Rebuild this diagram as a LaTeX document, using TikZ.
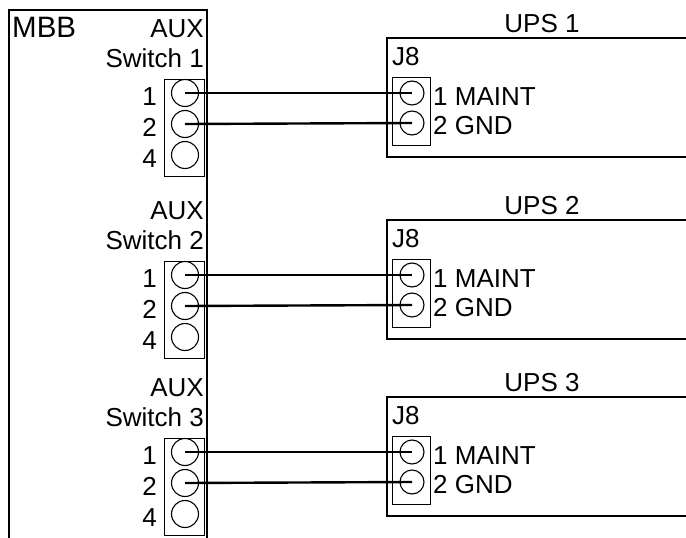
\documentclass[tikz,border=0pt]{standalone}
\usepackage{fontspec}
\setmainfont{Liberation Sans}

\tikzset{
	frame/.style={line width=1.4pt},
	header/.style={draw, line width=0.9pt, inner sep=0pt},
	pin/.style={draw, circle, line width=1.1pt, inner sep=0pt, minimum size=#1},
	pin/.default=27pt,
	wire/.style={line width=2.4pt},
	label/.style={inner sep=0pt, font=\fontsize{26}{30}\selectfont},
}

\begin{document}
\begin{tikzpicture}[x=1pt, y=-1pt]
		\useasboundingbox (0,0) rectangle (686,538);
		% MBB board, open at the bottom
		\draw [frame] (9,538) -- (9,10) -- (207,10) -- (207,538);
		\node [label, anchor=base west, font=\fontsize{29.5}{32}\selectfont] at (12,37) (mbb) {MBB};
		\foreach \s/\o in {1/0, 2/182, 3/359} {
			% AUX switch on the MBB
			\node [label, anchor=base east] at (204,37+\o) (aux\s) {AUX};
			\node [label, anchor=base east] at (204,67+\o) (sw\s) {Switch \s};
			\draw [header] (164,79+\o) rectangle (204,176+\o);
			\node [pin] at (185,93+\o) (a\s p1) {};
			\node [pin] at (185,124+\o) (a\s p2) {};
			\node [pin] at (185,155+\o) (a\s p4) {};
			\node [label, anchor=base east] at (157,105+\o) {1};
			\node [label, anchor=base east] at (157,136+\o) {2};
			\node [label, anchor=base east] at (157,167+\o) {4};
			% UPS with J8
			\node [label, anchor=base] at (542,32+\o) (ups\s) {UPS \s};
			\draw [frame] (686,38+\o) -- (387,38+\o) -- (387,157+\o) -- (686,157+\o);
			\node [label, anchor=base west] at (392,65+\o) (j\s) {J8};
			\draw [header] (392,77+\o) rectangle (430,145+\o);
			\node [pin=24pt] at (412,93+\o) (u\s p1) {};
			\node [pin=24pt] at (412,123+\o) (u\s p2) {};
			\node [label, anchor=base west] at (433,105+\o) {1 MAINT};
			\node [label, anchor=base west] at (433,134+\o) {2 GND};
			% wiring
			\draw [wire] (a\s p1.center) -- (u\s p1.center);
			\draw [wire] (a\s p2.center) -- (u\s p2.center);
		}
\end{tikzpicture}
\end{document}
